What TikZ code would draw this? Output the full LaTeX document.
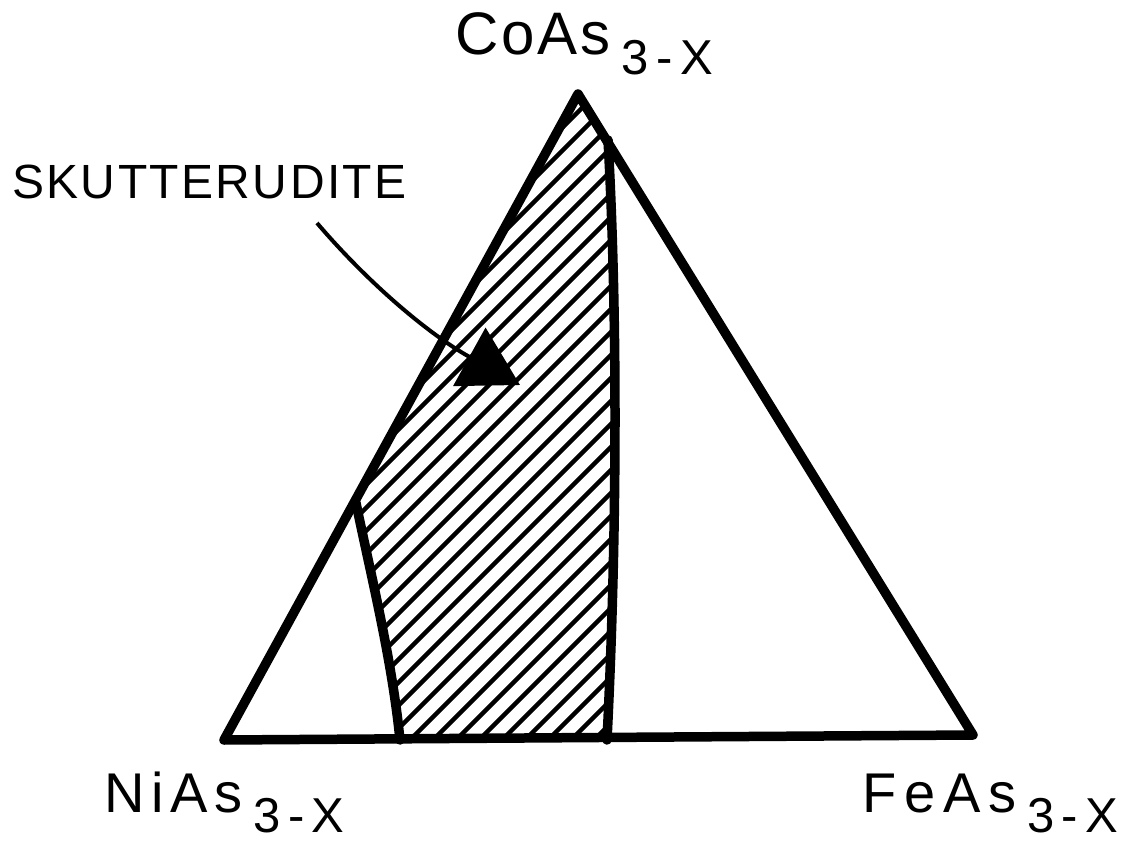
\documentclass[tikz,border=0pt]{standalone}
\usepackage{fontspec}
\setmainfont{Liberation Sans}
\usetikzlibrary{arrows.meta}
\newcommand\lowsub[1]{\hspace{11pt}\raisebox{-20pt}{\fontsize{49}{49}\selectfont\addfontfeature{LetterSpace=15}#1}}
\begin{document}
\begin{tikzpicture}[x=1pt,y=-1pt,
  edge/.style={line width=9.5pt,line join=round,line cap=round},
  hatchline/.style={line width=4.5pt},
  lab/.style={inner sep=0pt,anchor=base west},
  pointer/.style={line width=4pt,-{Triangle[length=58pt,width=66pt]}},
]
\useasboundingbox (0,0) rectangle (1138,842);
\coordinate (top) at (578,94);
\coordinate (left) at (224,740);
\coordinate (right) at (973,735);
\coordinate (lt) at (356,503);
\coordinate (lb) at (400,740);
\coordinate (rb) at (607,740);
\coordinate (rt) at (608,140);
% hatching of the skutterudite field
\begin{scope}
  \clip (top) -- (lt) .. controls (372,580) and (392,660) .. (lb) -- (rb)
        .. controls (618,520) and (617,300) .. (rt) -- cycle;
  \foreach \c in {644,667,...,1400} \draw[hatchline] (\c-800,800) -- (\c,0);
\end{scope}
% triangle and field boundaries
\draw[edge] (top) -- (left) -- (right) -- cycle;
\draw[edge] (lt) .. controls (372,580) and (392,660) .. (lb);
\draw[edge] (rb) .. controls (618,520) and (617,300) .. (rt);
% labels
\node[lab,font=\fontsize{60}{60}\selectfont\addfontfeature{LetterSpace=5}] (co) at (455,55) {CoAs\lowsub{3-X}};
\node[lab,font=\fontsize{56}{56}\selectfont\addfontfeature{LetterSpace=12}] (ni) at (104,812) {NiAs\lowsub{3-X}};
\node[lab,font=\fontsize{56}{56}\selectfont\addfontfeature{LetterSpace=14}] (fe) at (862,812) {FeAs\lowsub{3-X}};
\node[lab,font=\fontsize{48}{48}\selectfont\addfontfeature{LetterSpace=5}] (sk) at (12,199) {SKUTTERUDITE};
% pointer
\coordinate (ps) at (317,223);
\coordinate (pt) at (520,385);
\draw[pointer] (ps) .. controls (370,285) and (430,335) .. (pt);
\end{tikzpicture}
\end{document}
